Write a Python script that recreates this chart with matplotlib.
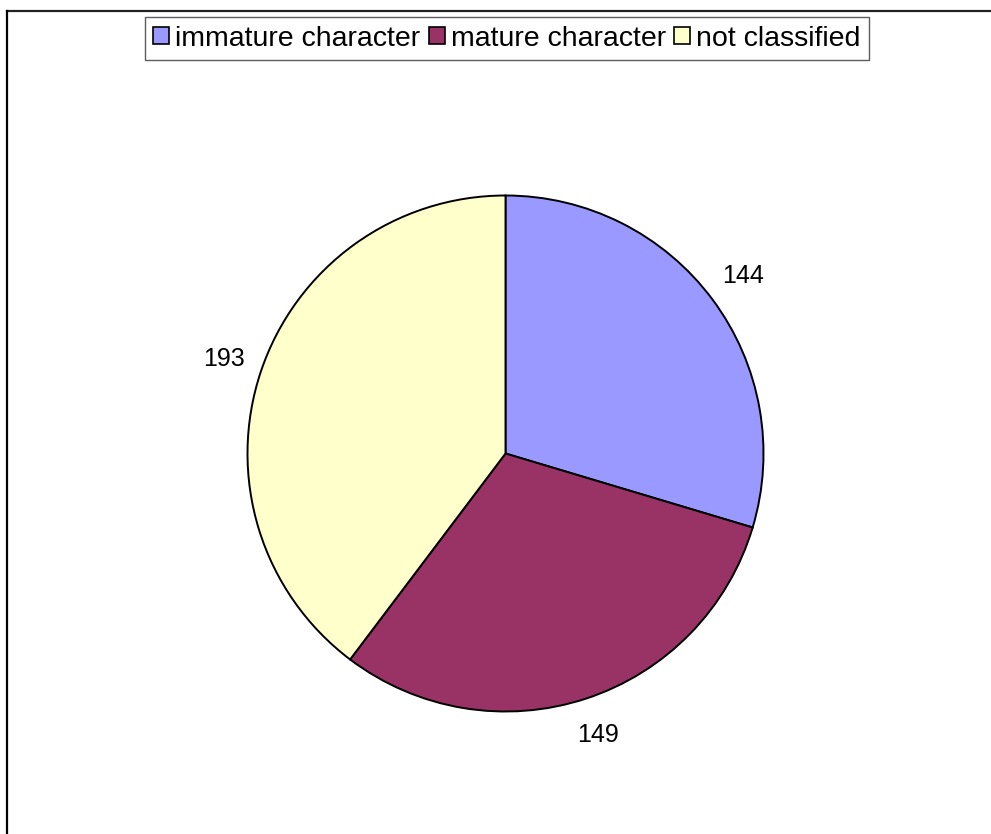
import matplotlib.pyplot as plt
from matplotlib.lines import Line2D

categories = ['immature character', 'mature character', 'not classified']
counts = [144, 149, 193]
colors = ['#9999FF', '#993366', '#FFFFCC']

plt.rcParams['font.family'] = ['Liberation Sans', 'DejaVu Sans']

W, H = 991, 834
fig = plt.figure(figsize=(W / 100, H / 100), dpi=100)

# pie centre and radius in pixels
cx, cy, r = 505.5, 453.5, 258
ax = fig.add_axes([(cx - r) / W, (H - cy - r) / H, 2 * r / W, 2 * r / H])
total = sum(counts)
wedges, texts, autotexts = ax.pie(
    counts, colors=colors, startangle=90, counterclock=False,
    wedgeprops=dict(edgecolor='black', linewidth=1.4),
    autopct=lambda p: '%d' % round(p * total / 100.0),
    pctdistance=1.15, textprops=dict(fontsize=18, color='black'))
for t in autotexts:
    t.set_clip_on(False)
ax.set_xlim(-1, 1)
ax.set_ylim(-1, 1)
ax.set_aspect('equal')

leg = fig.legend(wedges, categories, loc='upper center', ncol=3,
                 bbox_to_anchor=(507 / W, 1 - 17 / H), frameon=True, fancybox=False,
                 fontsize=20.5, handlelength=0.55, handleheight=0.55, handletextpad=0.22,
                 columnspacing=0.3, borderpad=0.3, borderaxespad=0)
leg.get_frame().set_edgecolor('#333333')
leg.get_frame().set_linewidth(1.0)
for h in leg.legend_handles:
    h.set_linewidth(1.2)

# outer chart border (top and left only visible)
fig.add_artist(Line2D([7 / W, 1], [1 - 11 / H, 1 - 11 / H], transform=fig.transFigure,
                      color='#222222', linewidth=1.6))
fig.add_artist(Line2D([7 / W, 7 / W], [0, 1 - 11 / H], transform=fig.transFigure,
                      color='black', linewidth=1.6))

fig.savefig('out.png', dpi=100)
